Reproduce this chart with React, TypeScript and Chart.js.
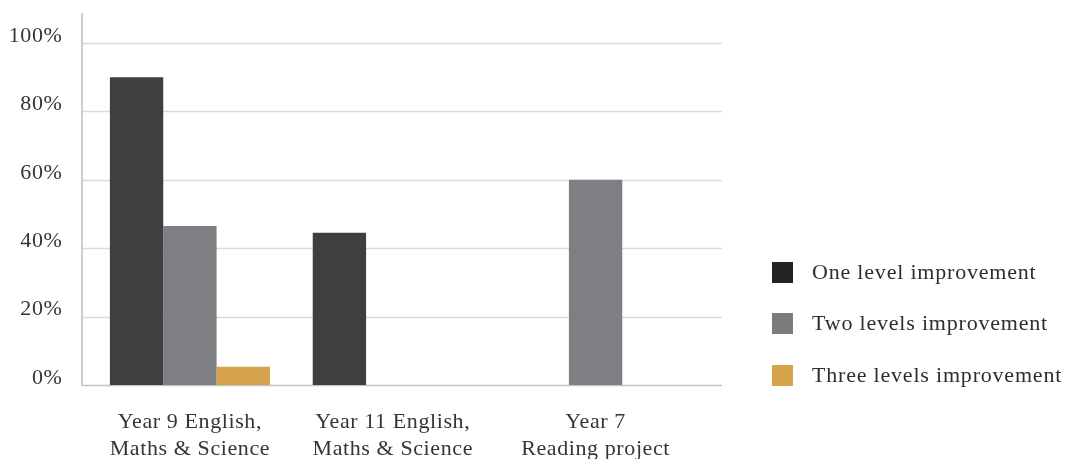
import React, { useEffect, useRef } from "react";
import { Chart, registerables } from "chart.js";

Chart.register(...registerables);

const categories: string[][] = [
  ["Year 9 English,", "Maths & Science"],
  ["Year 11 English,", "Maths & Science"],
  ["Year 7", "Reading project"],
];
const oneLevel: (number | null)[] = [90, 44.5, null];
const twoLevels: (number | null)[] = [46.5, null, 60];
const threeLevels: (number | null)[] = [5.3, null, null];
const seriesNames = ["One level improvement", "Two levels improvement", "Three levels improvement"];
const yTicks = [0, 20, 40, 60, 80, 100];

const barColors = ["#3f3f41", "#7e7f82", "#d4a34b"];
const legendColors = ["#232323", "#7c7c7e", "#d6a44c"];
const FONT = "'Liberation Serif', 'Times New Roman', serif";

const gridPlugin = {
  id: "customGrid",
  beforeDraw(chart: any) {
    const ctx = chart.ctx as any;
    if ("letterSpacing" in ctx) ctx.letterSpacing = "0.6px";
  },
  beforeDatasetsDraw(chart: any) {
    const { ctx, chartArea, scales } = chart;
    const y = scales.y;
    const left = chartArea.left - 6.5;
    const right = chartArea.right + 25;
    ctx.save();
    yTicks.forEach((v) => {
      const py = Math.round(y.getPixelForValue(v)) + 0.5;
      ctx.strokeStyle = v === 0 ? "#c4c4c4" : "#dadada";
      ctx.lineWidth = 1.5;
      ctx.beginPath();
      ctx.moveTo(left, py);
      ctx.lineTo(right, py);
      ctx.stroke();
    });
    ctx.strokeStyle = "#cdcdcd";
    ctx.lineWidth = 2;
    ctx.beginPath();
    ctx.moveTo(left, 13);
    ctx.lineTo(left, y.getPixelForValue(0) + 1);
    ctx.stroke();
    ctx.restore();
  },
};

export default function App() {
  const canvasRef = useRef<HTMLCanvasElement | null>(null);

  useEffect(() => {
    if (!canvasRef.current) return;
    const chart = new Chart(canvasRef.current, {
      type: "bar",
      data: {
        labels: categories,
        datasets: [
          { label: seriesNames[0], data: oneLevel, backgroundColor: barColors[0] },
          { label: seriesNames[1], data: twoLevels, backgroundColor: barColors[1] },
          { label: seriesNames[2], data: threeLevels, backgroundColor: barColors[2] },
        ],
      },
      options: {
        animation: false,
        responsive: false,
        maintainAspectRatio: false,
        layout: { padding: { top: 43, right: 371, left: 0, bottom: 0 } },
        datasets: { bar: { categoryPercentage: 0.789, barPercentage: 1 } },
        plugins: { legend: { display: false }, tooltip: { enabled: false } },
        scales: {
          x: {
            grid: { display: false, drawTicks: false },
            border: { display: false },
            ticks: {
              color: "#353535",
              font: { family: FONT, size: 22, lineHeight: 1.23 },
              padding: 24,
              maxRotation: 0,
              autoSkip: false,
            },
            afterFit: (s: any) => {
              s.height = 74;
            },
          },
          y: {
            min: 0,
            max: 100,
            grid: { display: false, drawTicks: false },
            border: { display: false },
            ticks: {
              stepSize: 20,
              color: "#353535",
              font: { family: FONT, size: 22 },
              padding: 26,
              labelOffset: -7,
              callback: (v: any) => v + "%",
            },
            afterFit: (s: any) => {
              s.width = 88.5;
            },
          },
        },
      },
      plugins: [gridPlugin],
    });
    return () => chart.destroy();
  }, []);

  const rowCenters = [272, 323, 375];

  return (
    <div style={{ position: "fixed", left: 0, top: 0, width: 1068, height: 459, background: "#fff" }}>
      <canvas ref={canvasRef} width={1068} height={459} style={{ width: 1068, height: 459, display: "block" }} />
      {seriesNames.map((name, i) => (
        <div
          key={name}
          style={{
            position: "absolute",
            left: 772,
            top: rowCenters[i] - 15,
            height: 30,
            display: "flex",
            alignItems: "center",
            fontFamily: FONT,
            fontSize: 22,
            letterSpacing: "0.8px",
            color: "#2e2e2e",
            whiteSpace: "nowrap",
          }}
        >
          <span style={{ display: "inline-block", width: 21, height: 21, background: legendColors[i], marginRight: 19 }} />
          <span>{name}</span>
        </div>
      ))}
    </div>
  );
}
